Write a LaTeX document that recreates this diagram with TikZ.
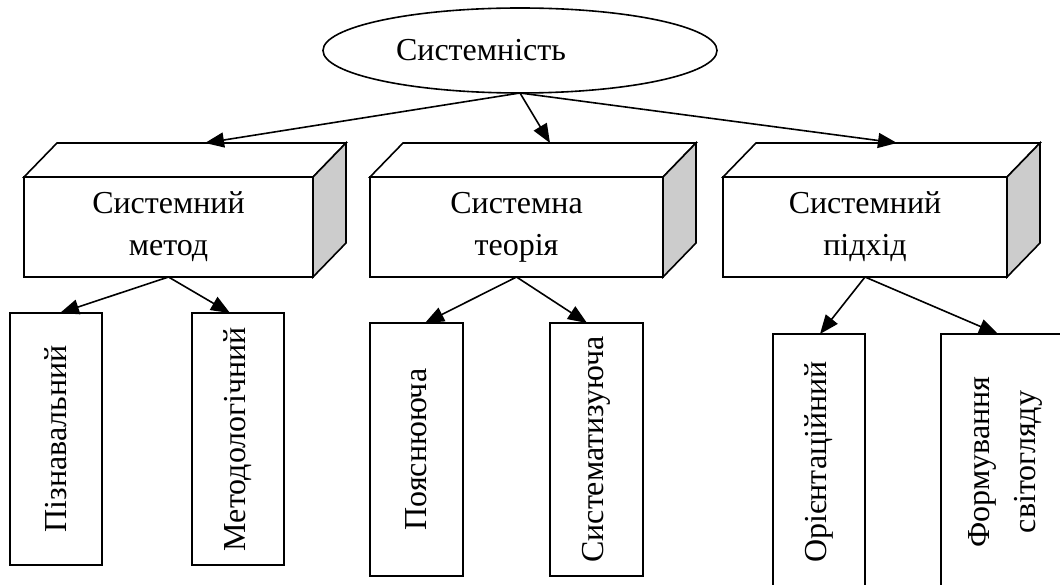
\documentclass[tikz,border=0pt]{standalone}
\usepackage{fontspec}
\setmainfont{Liberation Serif}
\newfontfamily\tnr{Liberation Serif}
\usetikzlibrary{shapes.geometric,arrows.meta,calc}
\begin{document}
\begin{tikzpicture}[x=1pt,y=-1pt,
  every node/.style={inner sep=0pt,outer sep=0pt},
  ln/.style={line width=1.6pt,line join=miter},
  oval/.style={ln,draw,ellipse,minimum width=394pt,minimum height=85pt,
    font=\tnr\fontsize{32}{42}\selectfont},
  front/.style={ln,draw,fill=white,rectangle,minimum width=#1,minimum height=100pt,
    align=center,font=\tnr\fontsize{32}{42}\selectfont},
  leaf/.style={ln,draw,fill=white,rectangle,minimum width=#1,
    font=\tnr\fontsize{32}{46}\selectfont},
  arr/.style={line width=1.6pt,-{Triangle[length=19pt,width=15pt]}}
]
\useasboundingbox (0,0) rectangle (1060,585);
\clip (0,0) rectangle (1060,585);

% top ellipse
\node[oval] (e) at (520,50.5) {Системність\hspace*{78pt}};

% 3D boxes: front faces
\node[front=289pt] (b1) at (168.5,227) {Системний\\метод};
\node[front=293pt] (b2) at (516.5,227) {Системна\\теорія};
\node[front=284pt] (b3) at (865,227) {Системний\\підхід};

\foreach \b in {b1,b2,b3}{
  \draw[ln,fill=white] (\b.north west) -- ++(33,-34) -- ($(\b.north east)+(33,-34)$)
     -- (\b.north east) -- cycle;
  \draw[ln,fill=gray!40] (\b.north east) -- ++(33,-34) -- ($(\b.south east)+(33,-34)$)
     -- (\b.south east) -- cycle;
}

% coordinates on the back top edges
\coordinate (t1) at ($(b1.north)+(36.5,-34)$);
\coordinate (t2) at ($(b2.north)+(33.5,-34)$);
\coordinate (t3) at ($(b3.north)+(32,-34)$);

\draw[arr] (e.south) -- (t1);
\draw[arr] (e.south) -- (t2);
\draw[arr] (e.south) -- (t3);

% leaf boxes
\node[leaf=92pt,minimum height=252pt] (p1) at (56,439) {\rotatebox{90}{Пізнавальний}};
\node[leaf=92pt,minimum height=252pt] (p2) at (238,439) {\rotatebox{90}{Методологічний}};
\node[leaf=93pt,minimum height=253pt] (p3) at (416.5,449.5) {\rotatebox{90}{Пояснююча}};
\node[leaf=93pt,minimum height=253pt] (p4) at (596.5,449.5) {\rotatebox{90}{Систематизуюча}};
\node[leaf=92pt,minimum height=256pt] (p5) at (819,462) {\rotatebox{90}{Орієнтаційний}};
\node[leaf=124pt,minimum height=256pt] (p6) at (1003,462)
  {\rotatebox{90}{\begin{tabular}{@{}c@{}}Формування\\світогляду\end{tabular}}};

\draw[arr] (b1.south) -- ([xshift=4pt]p1.north);
\draw[arr] (b1.south) -- ([xshift=-8pt]p2.north);
\draw[arr] (b2.south) -- ([xshift=8.5pt]p3.north);
\draw[arr] (b2.south) -- ([xshift=-9.5pt]p4.north);
\draw[arr] (b3.south) -- ([xshift=1pt]p5.north);
\draw[arr] (b3.south) -- ([xshift=-5pt]p6.north);
\end{tikzpicture}
\end{document}
